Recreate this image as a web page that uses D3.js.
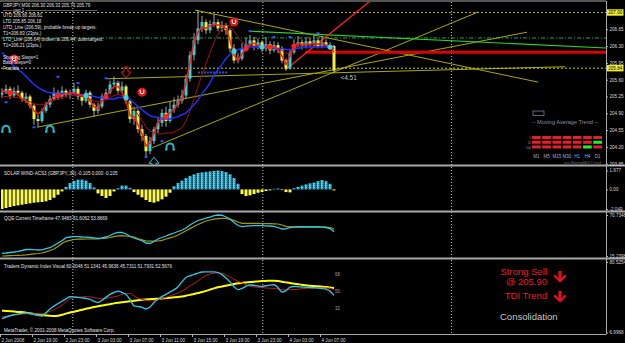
<!DOCTYPE html>
<html><head><meta charset="utf-8">
<script src="https://cdn.jsdelivr.net/npm/d3@7"></script>
<style>body{margin:0;background:#000}svg{display:block}</style>
</head><body><svg id="c" width="625" height="343"></svg>
<script>
// ---------------- DATA ----------------
const timeLabels = ["2 Jun 2008","2 Jun 19:00","2 Jun 23:00","3 Jun 03:00","3 Jun 07:00","3 Jun 11:00","3 Jun 15:00","3 Jun 19:00","3 Jun 23:00","4 Jun 03:00","4 Jun 07:00"];
const timeLabelBars = [0,8,16,24,32,40,48,56,64,72,80];
const gridBars = [17.7,65.2,112.4];

const opens = [205.29,205.33,205.41,205.27,205.37,205.33,205.20,205.25,205.06,204.78,
 204.74,204.95,205.08,205.20,205.33,205.25,205.37,205.29,205.33,205.41,
 205.25,205.16,205.33,205.08,204.95,205.04,205.25,205.33,205.50,205.54,
 205.37,205.46,205.16,204.78,204.95,204.57,204.43,204.11,204.32,204.57,
 204.70,204.91,204.74,204.99,205.08,205.16,205.27,205.62,206.11,206.42,
 206.67,206.80,206.63,206.76,206.80,206.67,206.74,206.63,206.25,206.00,
 206.04,206.25,206.34,206.42,206.30,206.38,206.25,206.34,206.21,206.32,
 206.25,206.00,205.83,206.17,206.34,206.38,206.30,206.40,206.34,206.42,
 206.30,206.38,206.32,206.30];
const closes = [205.33,205.41,205.27,205.37,205.33,205.20,205.25,205.06,204.78,204.74,
 204.95,205.08,205.20,205.33,205.25,205.37,205.29,205.33,205.41,205.25,
 205.16,205.33,205.08,204.95,205.04,205.25,205.33,205.50,205.54,205.37,
 205.46,205.16,204.78,204.95,204.57,204.43,204.11,204.32,204.57,204.70,
 204.91,204.74,204.99,205.08,205.16,205.27,205.62,206.11,206.42,206.67,
 206.80,206.63,206.76,206.80,206.67,206.74,206.63,206.25,206.00,206.04,
 206.25,206.34,206.42,206.30,206.38,206.25,206.34,206.21,206.32,206.25,
 206.00,205.83,206.17,206.34,206.38,206.30,206.40,206.34,206.42,206.30,
 206.38,206.32,206.30,205.79];
const highs = [205.42,205.50,205.46,205.44,205.48,205.37,205.33,205.29,205.10,204.87,
 205.00,205.14,205.27,205.44,205.39,205.46,205.41,205.39,205.54,205.46,
 205.29,205.39,205.37,205.12,205.12,205.31,205.41,205.58,205.67,205.58,
 205.56,205.50,205.20,205.04,204.99,204.66,204.47,204.41,204.62,204.83,
 204.99,205.04,205.14,205.23,205.27,205.39,205.71,206.19,206.57,207.05,
 206.93,206.86,206.84,206.97,206.86,206.82,206.78,206.67,206.34,206.15,
 206.36,206.46,206.53,206.49,206.46,206.42,206.49,206.40,206.40,206.38,
 206.30,206.04,206.23,206.44,206.51,206.44,206.49,206.46,206.53,206.46,
 206.51,206.44,206.38,206.33];
const lows = [205.22,205.30,205.20,205.22,205.27,205.14,205.12,205.00,204.66,204.62,
 204.70,204.91,205.02,205.16,205.18,205.20,205.23,205.20,205.29,205.18,
 205.06,205.12,205.02,204.83,204.89,205.00,205.20,205.29,205.44,205.31,
 205.33,205.10,204.70,204.66,204.49,204.32,204.01,204.05,204.26,204.49,
 204.62,204.62,204.70,204.91,205.02,205.10,205.20,205.56,206.00,206.34,
 206.59,206.55,206.57,206.70,206.61,206.59,206.53,206.17,205.94,205.94,
 206.00,206.19,206.28,206.21,206.23,206.17,206.19,206.13,206.17,206.15,
 205.94,205.79,205.81,206.13,206.28,206.23,206.25,206.28,206.30,206.25,
 206.25,206.28,206.23,205.73];

const maFast = [205.37,205.35,205.33,205.33,205.29,205.20,205.16,205.08,204.95,204.89,
 204.95,205.08,205.16,205.25,205.27,205.29,205.31,205.31,205.33,205.29,
 205.27,205.25,205.16,205.04,204.99,205.16,205.25,205.37,205.46,205.46,
 205.33,205.16,204.85,204.83,204.66,204.47,204.22,204.28,204.49,204.70,
 204.81,204.83,204.91,204.99,205.12,205.20,205.54,205.96,206.38,206.59,
 206.70,206.67,206.72,206.76,206.74,206.72,206.67,206.42,206.11,206.00,
 206.13,206.25,206.34,206.36,206.32,206.30,206.28,206.28,206.28,206.23,
 206.09,205.92,206.09,206.30,206.36,206.34,206.34,206.34,206.36,206.34,
 206.34,206.32,206.30,206.17];
const maMid = [206.17,206.07,205.96,205.88,205.81,205.75,205.67,205.58,205.50,205.44,
 205.39,205.35,205.33,205.33,205.31,205.31,205.31,205.31,205.31,205.29,
 205.29,205.27,205.27,205.25,205.23,205.23,205.20,205.20,205.20,205.23,
 205.23,205.23,205.18,205.12,205.04,204.97,204.91,204.85,204.83,204.81,
 204.78,204.78,204.78,204.81,204.83,204.87,204.91,204.99,205.08,205.18,
 205.31,205.41,205.54,205.69,205.81,205.92,206.04,206.13,206.19,206.23,
 206.25,206.25,206.28,206.28,206.28,206.28,206.28,206.28,206.25,206.25,
 206.25,206.23,206.23,206.25,206.25,206.28,206.28,206.28,206.28,206.28,
 206.28,206.28,206.28,206.25];
const maSlow = [205.25,205.25,205.25,205.23,205.23,205.20,205.18,205.14,205.10,205.08,
 205.08,205.10,205.14,205.18,205.20,205.23,205.25,205.27,205.27,205.27,
 205.25,205.23,205.20,205.16,205.14,205.16,205.18,205.23,205.27,205.29,
 205.27,205.20,205.10,204.99,204.87,204.74,204.62,204.53,204.49,204.47,
 204.47,204.49,204.49,204.51,204.55,204.60,204.74,204.95,205.20,205.46,
 205.71,205.94,206.17,206.38,206.55,206.67,206.74,206.72,206.61,206.49,
 206.38,206.32,206.30,206.30,206.30,206.30,206.30,206.30,206.28,206.25,
 206.21,206.15,206.15,206.21,206.28,206.32,206.32,206.34,206.34,206.34,
 206.34,206.32,206.30,206.25];

const priceTicks = [206.65,206.30,205.95,205.60,205.25,204.90,204.55,204.20,203.85];
const levelTop = 207.00;
const bidPrice = 205.84;
const greenLevel = 206.47;

const redDotBars = [2,14,26,41,61,67,73];
const cyanDotBars = [21,31,58,65,82];
const redSymbols = [[3,206.03],[35,205.34],[58,206.80]];
const cyanHorseshoes = [[1,204.59],[12,204.59],[42,204.22]];
const downArrowMarks = [[31,205.74]];
const upArrowMarks = [[38,203.88]];
const fractalMarks = [[1,205.13],[8,204.61],[14,205.66],[19,205.53],[26,205.63],[29,205.55],[36,203.99],[40,204.32],[62,206.61],[68,206.49],[72,206.49],[79,206.57]];

// trendlines: [bar1, price1, bar2, price2]
const olivLines = [[37.5,204.18,119,207.01],[8.75,204.61,131.25,206.59],[48.25,207.05,134,205.55],[26.25,205.62,140.75,205.87]];
const redTrend = [70.75,205.80,95,207.44];
const greenTrend = [62,206.61,151,206.26];
const redLevel = [75.75,151,206.17];
const blueSegment = [49,56.5,205.75];
const spreadText = "<4.51";
const spreadPos = [84.6,205.60];

const infoLines = ["GBPJPY,M30  206.30 206.33 205.73 205.79","——  usq 1  ————————————————","UTD 206.66  206.61","LTD 205.85  206.18","UTD_Line (206.59), probable break-up targets:","T1=206.83 (23pts.)","LTD_Line (206.64) broken at 206.44, downtargets:","T1=206.21 (23pts.)","","Showing Steps=1","Back Steps=0","Fractals"];

const solarWind = [-2.049,-1.94,-1.84,-1.74,-1.67,-1.60,-1.53,-1.46,-1.39,-1.35,
 -1.32,-1.25,-1.11,-0.87,-0.56,-0.21,0.26,0.66,0.89,1.02,
 1.02,0.92,0.66,0.20,-0.42,-0.69,-0.90,-0.69,-0.21,0.13,
 0.40,0.40,0.16,-0.28,-0.56,-0.83,-1.11,-1.32,-1.39,-1.25,
 -1.04,-0.76,-0.35,0.33,0.66,0.92,1.19,1.42,1.58,1.71,
 1.78,1.84,1.88,1.94,1.977,1.91,1.81,1.58,1.19,0.59,
 -0.49,-0.69,-0.62,-0.49,-0.35,-0.28,-0.17,-0.10,0.07,0.10,
 -0.07,-0.28,-0.31,0.13,0.26,0.40,0.53,0.63,0.72,0.86,
 0.99,0.86,0.59,-0.105];
const swTicks = [1.977,0,-2.049];

const qqeFast = [18.89,19.30,19.97,20.65,21.60,22.68,24.03,24.30,23.76,23.36,
 23.63,25.12,26.47,29.45,32.83,35.95,40.01,40.95,41.36,41.36,
 40.95,40.68,40.28,39.60,39.19,39.60,40.95,42.98,45.69,47.31,
 47.04,45.01,41.90,39.60,37.57,35.95,32.83,32.16,34.86,38.25,
 40.28,42.31,44.61,46.37,48.40,50.43,53.13,57.19,60.58,63.29,
 64.91,66.67,68.02,69.80,70.73,70.40,68.02,65.32,60.58,56.52,
 54.89,55.57,56.11,56.25,56.25,56.25,56.11,55.84,55.44,53.81,
 51.78,52.05,53.81,54.22,54.49,54.49,54.49,54.49,54.49,54.49,
 54.22,53.81,52.46,47.95];
const qqeSlow = [15.24,15.38,15.65,15.92,16.19,16.46,16.87,17.41,18.09,18.62,
 19.30,20.92,22.68,24.71,28.10,32.16,35.13,36.49,37.57,37.98,
 38.11,38.25,38.25,38.25,38.52,38.92,39.33,40.28,41.50,42.58,
 42.72,42.31,41.63,40.95,38.92,37.17,35.81,35.27,35.27,35.54,
 36.49,38.25,39.87,41.23,43.66,46.37,49.35,52.32,55.16,57.87,
 60.31,62.61,63.96,65.05,65.86,66.27,66.00,64.91,63.42,61.26,
 59.50,59.50,59.50,59.50,59.36,59.23,59.09,58.96,58.82,58.55,
 57.20,55.30,54.76,54.76,54.90,54.90,54.90,54.76,54.76,54.63,
 54.49,54.36,53.81,51.61];
const qqeTicks = [70.7348,15.2398];

const tdiBase = [29.80,29.49,29.19,28.89,28.48,28.28,27.68,26.97,26.26,25.66,
 25.25,24.85,24.44,24.14,24.44,25.45,26.67,27.78,28.69,29.70,
 30.71,31.72,32.63,33.54,34.44,35.15,35.86,36.57,37.37,37.98,
 38.48,39.09,39.60,40.20,40.71,41.11,41.41,41.72,42.02,42.22,
 42.53,42.93,43.33,43.64,43.94,44.55,45.35,46.26,47.17,48.18,
 49.19,50.40,51.72,53.03,54.24,55.05,55.86,56.67,57.47,58.28,
 58.79,59.19,59.60,60.00,60.30,60.61,60.81,61.01,61.01,60.61,
 60.00,59.29,58.59,57.98,57.37,56.77,56.26,55.76,55.45,55.15,
 54.75,54.34,53.84,53.43];
const tdiRsi = [21.41,23.13,24.44,25.45,26.16,26.97,27.47,26.87,25.86,24.85,
 24.14,27.47,31.52,34.55,37.07,39.60,42.12,44.34,44.14,43.64,
 43.13,42.63,41.62,39.60,38.28,40.61,43.64,46.67,48.69,50.00,
 48.69,46.67,41.62,34.85,34.04,33.23,31.52,33.54,38.28,41.62,
 44.65,46.67,49.19,51.41,54.75,59.80,64.34,66.16,67.68,68.89,
 70.10,70.20,70.20,70.20,69.39,67.37,63.84,59.80,54.75,51.72,
 53.03,55.25,56.57,56.26,55.56,55.05,55.76,56.46,56.77,53.74,
 49.19,50.71,54.24,54.95,54.75,54.44,54.14,53.84,53.64,53.43,
 52.93,52.12,50.20,45.73];
const tdiSignal = [23.13,23.94,24.65,25.25,25.76,26.26,26.46,26.46,26.46,26.46,
 26.46,27.47,28.99,30.81,33.03,35.56,39.09,42.12,43.43,43.84,
 44.14,44.34,44.14,43.33,42.63,42.32,42.63,43.43,44.14,45.15,
 46.67,47.98,47.68,45.15,42.83,41.62,40.61,39.90,40.10,41.11,
 42.32,43.64,45.15,46.67,48.18,50.20,52.73,55.76,57.98,60.81,
 63.84,66.57,68.08,68.89,69.19,68.89,66.87,64.85,62.53,60.51,
 58.79,56.77,55.25,54.55,54.14,53.74,53.43,53.23,52.93,52.42,
 51.72,51.52,51.62,51.72,52.12,52.63,53.03,53.33,53.43,53.43,
 53.43,53.43,53.13,51.41];
const tdiTicks = [80.5254,6.9968];
const tdiLevels = [68,50,32];

const swLabel = "SOLAR WIND-ACS3 (GBPJPY,,30) -0.105 0.000 -0.105";
const qqeLabel = "QQE Current Timeframe 47.9483 51.6062 53.8669";
const tdiLabel = "Traders Dynamic Index Visual 60.0046 51.1341 45.9636 45.7311 51.7931 52.5676";
const footer = "MetaTrader, © 2001-2008 MetaQuotes Software Corp.";
const signalTexts = ["Strong Sell","@ 205.90","TDI Trend","Consolidation"];

const maTimeframes = ["M1","M5","M15","M30","H1","H4","D1"];
const maRows = ["5","20","100"];
const maState = [[0,0,0,0,0,0,0],[0,0,0,0,0,0,1],[0,0,0,0,0,1,0]];
const maTitle = "-- Moving Average Trend --";
const maFooter = "xxx MovingMULTI.ex4";

// ---------------- DRAW ----------------
const W=625,H=343;
const svg=d3.select("#c");
const FONT="'Liberation Sans', Arial, sans-serif";
const small=4.6;
svg.append("rect").attr("width",W).attr("height",H).attr("fill","#000");
const defs=svg.append("defs");
const clipDefs=[["clipMain",1,2,605,163],["clipSW",1,167,605,43],["clipQ",1,213,605,45],["clipT",1,260,605,74]];
clipDefs.forEach(c=>defs.append("clipPath").attr("id",c[0]).append("rect").attr("x",c[1]).attr("y",c[2]).attr("width",c[3]).attr("height",c[4]));
const pat=defs.append("pattern").attr("id","cyanDots").attr("width",2).attr("height",2).attr("patternUnits","userSpaceOnUse");
pat.append("rect").attr("width",2).attr("height",2).attr("fill","#48d4e0");
pat.append("rect").attr("width",1).attr("height",1).attr("fill","#2a8cc0");

const xs=d3.scaleLinear().domain([0,151]).range([2,606]);
const yP=d3.scaleLinear().domain([203.8229,207.2604]).range([165,0]);
const ySW=d3.scaleLinear().domain([-2.049,1.977]).range([209,170.5]);
const yQ=d3.scaleLinear().domain([15.2398,70.7348]).range([256,215]);
const yT=d3.scaleLinear().domain([6.9968,80.5254]).range([332.5,262]);
const idx=d3.range(closes.length);

// grid
const grid=svg.append("g");
gridBars.forEach(b=>grid.append("line").attr("x1",xs(b)).attr("x2",xs(b)).attr("y1",2).attr("y2",334)
  .attr("stroke","#c8c8c8").attr("stroke-dasharray","1,2"));

// ---- main panel ----
const main=svg.append("g").attr("clip-path","url(#clipMain)");
function hline(p,color,dash,w){main.append("line").attr("x1",1).attr("x2",606).attr("y1",yP(p)).attr("y2",yP(p)).attr("stroke",color).attr("stroke-width",w||1).attr("stroke-dasharray",dash);}
hline(levelTop,"#b8b800","2,2");
hline(greenLevel,"#10a860","4,2,1,2");
function seg(l,color,w){main.append("line").attr("x1",xs(l[0])).attr("y1",yP(l[1])).attr("x2",xs(l[2])).attr("y2",yP(l[3])).attr("stroke",color).attr("stroke-width",w||1);}
olivLines.forEach(l=>seg(l,"#a8a800",1));
seg(greenTrend,"#30d030",1.2);
main.append("line").attr("x1",xs(redLevel[0])).attr("x2",xs(redLevel[1])).attr("y1",yP(redLevel[2])).attr("y2",yP(redLevel[2])).attr("stroke","#d80000").attr("stroke-width",3);
seg(redTrend,"#ff2020",1.3);
hline(bidPrice,"#d0d000","2,2");
main.append("line").attr("x1",xs(blueSegment[0])).attr("x2",xs(blueSegment[1])).attr("y1",yP(blueSegment[2])).attr("y2",yP(blueSegment[2])).attr("stroke","#3040ff").attr("stroke-width",2).attr("stroke-dasharray","2,1");

// candles
const cg=main.append("g");
cg.selectAll("line").data(idx).join("line").attr("x1",i=>xs(i)).attr("x2",i=>xs(i)).attr("y1",i=>yP(highs[i])).attr("y2",i=>yP(lows[i])).attr("stroke","#a8a8a8");
cg.selectAll("rect").data(idx).join("rect").attr("x",i=>xs(i)-1.5).attr("width",3)
  .attr("y",i=>yP(Math.max(opens[i],closes[i]))).attr("height",i=>Math.max(1,Math.abs(yP(opens[i])-yP(closes[i]))))
  .attr("fill",i=>closes[i]>=opens[i]?"#30d0d8":"#f0f040");

// MAs
const lineP=arr=>d3.line().x((d,i)=>xs(i)).y(d=>yP(d)).curve(d3.curveLinear)(arr);
main.append("path").attr("d",lineP(maSlow)).attr("fill","none").attr("stroke","#a01010").attr("stroke-width",1);
main.append("path").attr("d",lineP(maMid)).attr("fill","none").attr("stroke","#2030ff").attr("stroke-width",1.5);
main.append("path").attr("d",lineP(maFast)).attr("fill","none").attr("stroke","#ff1a1a").attr("stroke-width",1.5);

fractalMarks.forEach(f=>main.append("rect").attr("x",xs(f[0])-1.5).attr("y",yP(f[1])-1).attr("width",3).attr("height",2).attr("fill","#3050ff"));
redDotBars.forEach(b=>main.append("circle").attr("cx",xs(b)).attr("cy",yP(maFast[b])).attr("r",2.6).attr("fill","#ff2020"));
cyanDotBars.forEach(b=>main.append("circle").attr("cx",xs(b)).attr("cy",yP(maMid[b])).attr("r",2.6).attr("fill","#40d0e0"));
redSymbols.forEach(s=>{const x=xs(s[0]),y=yP(s[1]);
  main.append("circle").attr("cx",x).attr("cy",y).attr("r",4.5).attr("fill","#e01818");
  main.append("path").attr("d",`M${x-1.8},${y-2.4}v2.2a1.8,1.8 0 0 0 3.6,0v-2.2`).attr("stroke","#fff").attr("fill","none").attr("stroke-width",1);});
cyanHorseshoes.forEach(s=>{const x=xs(s[0]),y=yP(s[1]);
  main.append("path").attr("d",`M${x-3.5},${y+3.5}v-2.5a3.5,3.5 0 0 1 7,0v2.5M${x-5},${y+3.5}h2.5M${x+2.5},${y+3.5}h2.5`).attr("stroke","#20b8c8").attr("stroke-width",2).attr("fill","none");});
downArrowMarks.forEach(s=>{const x=xs(s[0]),y=yP(s[1]);
  main.append("path").attr("d",`M${x-2},${y-6}h4v5h3l-5,6l-5,-6h3z`).attr("stroke","#d02020").attr("fill","none");});
upArrowMarks.forEach(s=>{const x=xs(s[0]),y=yP(s[1]);
  main.append("path").attr("d",`M${x-2},${y+6}h4v-5h3l-5,-6l-5,6h3z`).attr("stroke","#30c0d0").attr("fill","none");});
main.append("text").attr("x",xs(spreadPos[0])).attr("y",yP(spreadPos[1])).attr("font-family",FONT).attr("font-size",6.5).attr("fill","#c0c0c0").text(spreadText);

// info lines
const info=svg.append("g").attr("font-family",FONT).attr("font-size",4.5).attr("fill","#e0e0e0");
const infoY=[7.3,12.3,17.3,22.9,28.9,34.9,40.9,46.6,52,58.9,64.3,69.9];
infoLines.forEach((t,i)=>info.append("text").attr("x",3).attr("y",infoY[i]).text(t));

// MA trend widget
const mw=svg.append("g").attr("font-family",FONT);
const bx=d3.scaleBand().domain(maTimeframes).range([532,602]).paddingInner(0.15);
const by=d3.scaleBand().domain(maRows).range([136,148.5]).paddingInner(0.35);
mw.append("rect").attr("x",533).attr("y",111).attr("width",11).attr("height",4.5).attr("fill","none").attr("stroke","#7080a0").attr("stroke-width",0.8);
mw.append("text").attr("x",565).attr("y",124).attr("text-anchor","middle").attr("font-size",5.6).attr("fill","#9090a0").text(maTitle);
maRows.forEach((r,ri)=>{
  mw.append("text").attr("x",531).attr("y",by(r)+by.bandwidth()).attr("text-anchor","end").attr("font-size",3).attr("fill","#909090").text(r);
  maTimeframes.forEach((tf,ci)=>mw.append("rect").attr("x",bx(tf)).attr("y",by(r)).attr("width",bx.bandwidth()).attr("height",by.bandwidth())
    .attr("fill",maState[ri][ci]?"#20f020":"#e0202a"));
});
maTimeframes.forEach(tf=>mw.append("text").attr("x",bx(tf)+bx.bandwidth()/2).attr("y",157.5).attr("text-anchor","middle").attr("font-size",4.5).attr("fill","#a8a8d0").text(tf));
mw.append("text").attr("x",601).attr("y",163.5).attr("text-anchor","end").attr("font-size",3.8).attr("fill","#707070").text(maFooter);

// ---- Solar wind ----
const sw=svg.append("g").attr("clip-path","url(#clipSW)");
sw.selectAll("rect").data(idx).join("rect").attr("x",i=>xs(i)-1.5).attr("width",3)
  .attr("y",i=>ySW(Math.max(0,solarWind[i]))).attr("height",i=>Math.abs(ySW(solarWind[i])-ySW(0)))
  .attr("fill",i=>solarWind[i]>=0?"url(#cyanDots)":"#f8f850");

// ---- QQE ----
const qg=svg.append("g").attr("clip-path","url(#clipQ)");
const lineQ=arr=>d3.line().x((d,i)=>xs(i)).y(d=>yQ(d))(arr);
qg.append("path").attr("d",lineQ(qqeSlow)).attr("fill","none").attr("stroke","#a09a10").attr("stroke-width",1.2);
qg.append("path").attr("d",lineQ(qqeFast)).attr("fill","none").attr("stroke","#30c8e0").attr("stroke-width",1.3);

// ---- TDI ----
const tg=svg.append("g").attr("clip-path","url(#clipT)");
const lineT=arr=>d3.line().x((d,i)=>xs(i)).y(d=>yT(d)).curve(d3.curveMonotoneX)(arr);
tg.append("path").attr("d",lineT(tdiBase)).attr("fill","none").attr("stroke","#ffff00").attr("stroke-width",2);
tg.append("path").attr("d",lineT(tdiSignal)).attr("fill","none").attr("stroke","#c01818").attr("stroke-width",1);
tg.append("path").attr("d",lineT(tdiRsi)).attr("fill","none").attr("stroke","#30c0e0").attr("stroke-width",1.4);
tdiLevels.forEach(l=>tg.append("text").attr("x",xs(83)+1).attr("y",yT(l)+1.6).attr("font-family",FONT).attr("font-size",4.5).attr("fill","#a0a0a0").text(l));
const sig=svg.append("g").attr("font-family",FONT).attr("font-size",9.5);
sig.append("text").attr("x",547).attr("y",275).attr("text-anchor","end").attr("fill","#e81c2c").text(signalTexts[0]);
sig.append("text").attr("x",547).attr("y",284.5).attr("text-anchor","end").attr("fill","#e81c2c").text(signalTexts[1]);
sig.append("text").attr("x",547).attr("y",299).attr("text-anchor","end").attr("fill","#e81c2c").text(signalTexts[2]);
sig.append("text").attr("x",500).attr("y",319.5).attr("fill","#c8c8c8").text(signalTexts[3]);
[271,291].forEach(t=>{const cx=560;
  sig.append("path").attr("d",`M${cx-1.6},${t}h3.2v7l3.4,-3.4l1.6,1.6l-6.6,6.6l-6.6,-6.6l1.6,-1.6l3.4,3.4z`).attr("fill","#e01020");});

// labels
const lab=svg.append("g").attr("font-family",FONT).attr("font-size",small).attr("fill","#e0e0e0");
lab.append("text").attr("x",4).attr("y",174.5).text(swLabel);
lab.append("text").attr("x",4).attr("y",219.5).text(qqeLabel);
lab.append("text").attr("x",4).attr("y",267.5).text(tdiLabel);
lab.append("text").attr("x",4).attr("y",332).text(footer);

// frame & separators
const fr=svg.append("g").attr("stroke","#a8a8a8");
fr.append("line").attr("x1",0).attr("x2",606).attr("y1",1).attr("y2",1);
[165.5,211.5,258.5].forEach(y=>fr.append("line").attr("x1",0).attr("x2",625).attr("y1",y).attr("y2",y).attr("stroke-width",2));
fr.append("line").attr("x1",0).attr("x2",606).attr("y1",334.5).attr("y2",334.5);
fr.append("line").attr("x1",606.5).attr("x2",606.5).attr("y1",1).attr("y2",334.5);

// axes
function styleAxis(g){g.select(".domain").remove();g.selectAll("line").attr("stroke","#b0b0b0");
  g.selectAll("text").attr("font-family",FONT).attr("font-size",small).attr("fill","#d8d8d8");}
const ay=svg.append("g").attr("transform","translate(606,0)").call(d3.axisRight(yP).tickValues(priceTicks).tickSize(2).tickPadding(1.5).tickFormat(d3.format(".2f")));
styleAxis(ay);
[[levelTop,"207.00"],[bidPrice,"205.84"]].forEach(b=>{
  svg.append("rect").attr("x",607).attr("y",yP(b[0])-3.2).attr("width",16.5).attr("height",6.4).attr("fill","#f0f030");
  svg.append("text").attr("x",608.2).attr("y",yP(b[0])+1.7).attr("font-family",FONT).attr("font-size",small).attr("fill","#000").text(b[1]);});
const fmtMap=v=>v===0?"0.00":String(v);
styleAxis(svg.append("g").attr("transform","translate(606,0)").call(d3.axisRight(ySW).tickValues(swTicks).tickSize(2).tickPadding(1.5).tickFormat(fmtMap)));
styleAxis(svg.append("g").attr("transform","translate(606,0)").call(d3.axisRight(yQ).tickValues(qqeTicks).tickSize(2).tickPadding(1.5).tickFormat(fmtMap)));
styleAxis(svg.append("g").attr("transform","translate(606,0)").call(d3.axisRight(yT).tickValues(tdiTicks).tickSize(2).tickPadding(1.5).tickFormat(fmtMap)));
const ax=svg.append("g").attr("transform","translate(-2,334.5)").call(d3.axisBottom(xs).tickValues(timeLabelBars).tickSize(2.5).tickPadding(1.5).tickFormat((d,i)=>timeLabels[i]));
styleAxis(ax);
ax.selectAll("text").attr("text-anchor","start").attr("dx","1");
</script>
</body></html>
